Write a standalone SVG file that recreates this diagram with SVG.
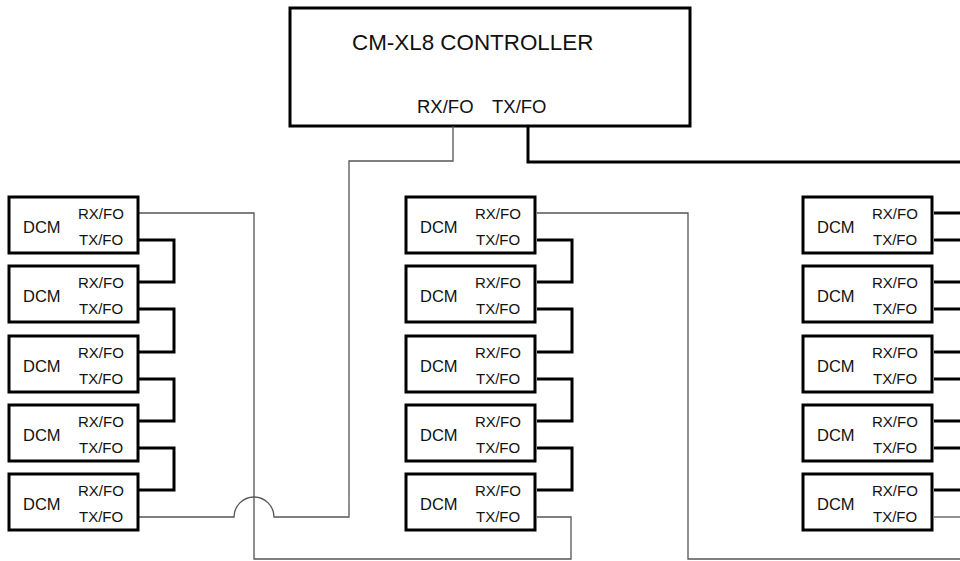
<svg xmlns="http://www.w3.org/2000/svg" width="960" height="561" viewBox="0 0 960 561">
<style>
.box{fill:#fff;stroke:#000;stroke-width:3}
.t{font-family:"Liberation Sans",Arial,sans-serif;fill:#111}
.dcm{font-size:16.5px}
.port{font-size:15px}
.thick{fill:none;stroke:#000;stroke-width:3}
.thin{fill:none;stroke:#555;stroke-width:1.3}
</style>
<defs>
<g id="dcmtpl">
<rect class="box" x="0" y="0" width="129" height="56"/>
<text class="t dcm" x="14" y="36">DCM</text>
<text class="t port" x="69" y="21.5">RX/FO</text>
<text class="t port" x="70" y="48">TX/FO</text>
</g>
</defs>
<rect width="960" height="561" fill="#fff"/>
<g id="controller">
<rect class="box" x="290" y="8" width="400" height="118"/>
<text class="t" x="352" y="50" font-size="22.4">CM-XL8 CONTROLLER</text>
<text class="t" x="417" y="113" font-size="18.5">RX/FO</text>
<text class="t" x="492" y="113" font-size="18.5">TX/FO</text>
</g>
<g id="connectors">
<path class="thick" d="M138 240H174V282H138M138 309H174V352H138M138 379H174V421H138M138 448H174V490H138"/>
<path class="thick" d="M537 240H572V282H537M537 309H572V352H537M537 379H572V421H537M537 448H572V490H537"/>
<path class="thick" d="M934 213H962M934 240H962M934 282H962M934 309H962M934 352H962M934 379H962M934 421H962M934 448H962M934 490H962"/>
<path class="thin" d="M934 517H962"/>
<path class="thick" d="M528 126V162H962"/>
<path class="thin" d="M453 126V161H349V517H274A20 20 0 0 0 234 517H138"/>
<path class="thin" d="M138 213H254V559H571V517H537"/>
<path class="thin" d="M537 213H688V559H962"/>
</g>
<g id="dcm-l1"><use href="#dcmtpl" x="9" y="197"/></g>
<g id="dcm-l2"><use href="#dcmtpl" x="9" y="266"/></g>
<g id="dcm-l3"><use href="#dcmtpl" x="9" y="336"/></g>
<g id="dcm-l4"><use href="#dcmtpl" x="9" y="405"/></g>
<g id="dcm-l5"><use href="#dcmtpl" x="9" y="474"/></g>
<g id="dcm-m1"><use href="#dcmtpl" x="406" y="197"/></g>
<g id="dcm-m2"><use href="#dcmtpl" x="406" y="266"/></g>
<g id="dcm-m3"><use href="#dcmtpl" x="406" y="336"/></g>
<g id="dcm-m4"><use href="#dcmtpl" x="406" y="405"/></g>
<g id="dcm-m5"><use href="#dcmtpl" x="406" y="474"/></g>
<g id="dcm-r1"><use href="#dcmtpl" x="803" y="197"/></g>
<g id="dcm-r2"><use href="#dcmtpl" x="803" y="266"/></g>
<g id="dcm-r3"><use href="#dcmtpl" x="803" y="336"/></g>
<g id="dcm-r4"><use href="#dcmtpl" x="803" y="405"/></g>
<g id="dcm-r5"><use href="#dcmtpl" x="803" y="474"/></g>
</svg>
